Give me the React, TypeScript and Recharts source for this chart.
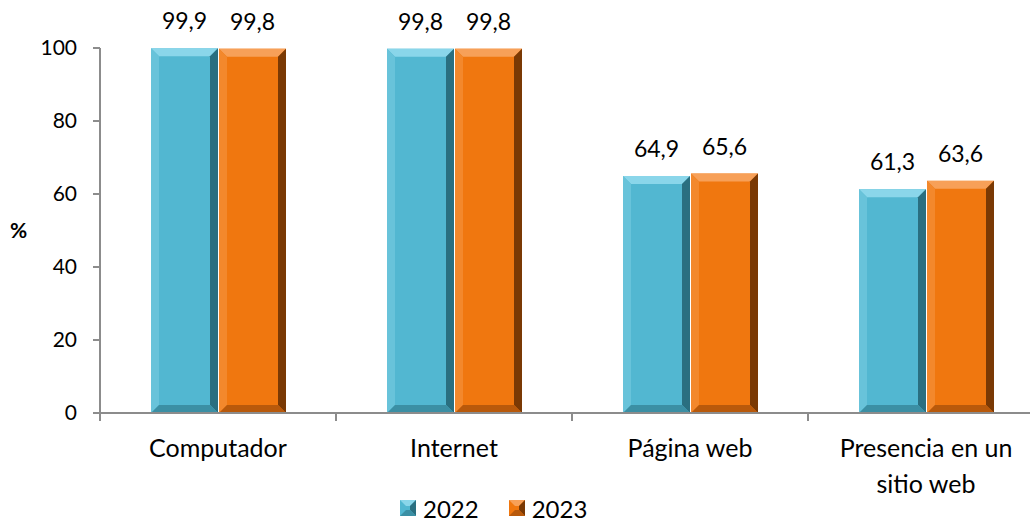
import React from "react";
import { BarChart, Bar, XAxis, YAxis, LabelList, Legend } from "recharts";

const categories = ["Computador", "Internet", "Página web", "Presencia en un sitio web"];
const values2022 = [99.9, 99.8, 64.9, 61.3];
const values2023 = [99.8, 99.8, 65.6, 63.6];
const yTicks = [0, 20, 40, 60, 80, 100];

const data = categories.map((name, i) => ({
  name,
  y2022: values2022[i],
  y2023: values2023[i],
}));

const FONT = "Lato, 'Open Sans', sans-serif";

const palettes: Record<string, { main: string; top: string; left: string; right: string; bottom: string }> = {
  blue: { main: "#52B7D1", top: "#8AD6EA", left: "#68C3DA", right: "#2A6F80", bottom: "#3B8FA4" },
  orange: { main: "#F0770F", top: "#F7A058", left: "#F3882C", right: "#7A3904", bottom: "#B8590B" },
};

function BevelBar(props: any) {
  const { x, y, width: w, height: h, tone } = props;
  if (!w || !h || h <= 0) return null;
  const c = palettes[tone];
  const b = Math.min(8, w / 4, h / 4);
  return (
    <g>
      <rect x={x} y={y} width={w} height={h} fill={c.main} />
      <polygon points={`${x},${y} ${x + w},${y} ${x + w - b},${y + b} ${x + b},${y + b}`} fill={c.top} />
      <polygon points={`${x},${y} ${x + b},${y + b} ${x + b},${y + h - b} ${x},${y + h}`} fill={c.left} />
      <polygon points={`${x + w},${y} ${x + w},${y + h} ${x + w - b},${y + h - b} ${x + w - b},${y + b}`} fill={c.right} />
      <polygon points={`${x},${y + h} ${x + w},${y + h} ${x + w - b},${y + h - b} ${x + b},${y + h - b}`} fill={c.bottom} />
    </g>
  );
}

function splitLabel(s: string): string[] {
  const words = s.split(" ");
  const out: string[] = [];
  let cur = "";
  for (const w of words) {
    const next = cur ? cur + " " + w : w;
    if (next.length > 16 && cur) {
      out.push(cur);
      cur = w;
    } else cur = next;
  }
  if (cur) out.push(cur);
  return out;
}

function CategoryTick(props: any) {
  const { x, y, payload } = props;
  const half = payload.offset || 118;
  const lines = splitLabel(String(payload.value));
  return (
    <g>
      <line x1={x - half} y1={y - 8} x2={x - half} y2={y} stroke="#8C8C8C" strokeWidth={2} />
      <text x={x} y={y + 36} textAnchor="middle" fontFamily={FONT} fontSize={25} fill="#000">
        {lines.map((ln: string, i: number) => (
          <tspan key={i} x={x} dy={i === 0 ? 0 : 36}>
            {ln}
          </tspan>
        ))}
      </text>
    </g>
  );
}

function LegendSwatch({ tone }: { tone: string }) {
  const c = palettes[tone];
  const s = 16;
  const b = 6;
  return (
    <svg width={s} height={s} style={{ marginRight: 7 }}>
      <rect x={0} y={0} width={s} height={s} fill={c.main} />
      <polygon points={`0,0 ${s},0 ${s - b},${b} ${b},${b}`} fill={c.top} />
      <polygon points={`${s},0 ${s},${s} ${s - b},${s - b} ${s - b},${b}`} fill={c.right} />
      <polygon points={`0,${s} ${s},${s} ${s - b},${s - b} ${b},${s - b}`} fill={c.bottom} />
    </svg>
  );
}

function LegendContent() {
  return (
    <div style={{ display: "flex", alignItems: "center", height: 30, fontFamily: FONT, fontSize: 24, color: "#000" }}>
      <span style={{ display: "flex", alignItems: "center", marginRight: 30 }}>
        <LegendSwatch tone="blue" />
        2022
      </span>
      <span style={{ display: "flex", alignItems: "center" }}>
        <LegendSwatch tone="orange" />
        2023
      </span>
    </div>
  );
}

const fmt = (v: any) => String(v).replace(".", ",");

export default function App() {
  return (
    <div style={{ position: "absolute", left: 0, top: 0, width: 1030, height: 523, overflow: "hidden", background: "#fff" }}>
      <BarChart
        width={1044}
        height={523}
        data={data}
        margin={{ top: 48, right: 0, bottom: 0, left: 0 }}
        barCategoryGap={51}
        barGap={1}
      >
        <YAxis
          width={100}
          domain={[0, 100]}
          ticks={yTicks}
          interval={0}
          tickSize={7}
          tickMargin={16}
          axisLine={{ stroke: "#8C8C8C", strokeWidth: 2 }}
          tickLine={{ stroke: "#8C8C8C", strokeWidth: 2 }}
          tick={{ fill: "#000", fontFamily: FONT, fontSize: 21 }}
          label={{ value: "%", position: "insideLeft", offset: 10, fill: "#000", fontFamily: FONT, fontSize: 21, fontWeight: "bold" }}
        />
        <XAxis
          dataKey="name"
          height={80}
          interval={0}
          tickLine={false}
          axisLine={{ stroke: "#8C8C8C", strokeWidth: 2 }}
          tick={<CategoryTick />}
        />
        <Legend
          verticalAlign="bottom"
          height={30}
          content={<LegendContent />}
          wrapperStyle={{ left: 400, width: 260 }}
        />
        <Bar dataKey="y2022" isAnimationActive={false} shape={(p: any) => <BevelBar {...p} tone="blue" />}>
          <LabelList
            dataKey="y2022"
            position="top"
            offset={19}
            formatter={fmt}
            style={{ fill: "#000", fontFamily: FONT, fontSize: 23 }}
          />
        </Bar>
        <Bar dataKey="y2023" isAnimationActive={false} shape={(p: any) => <BevelBar {...p} tone="orange" />}>
          <LabelList
            dataKey="y2023"
            position="top"
            offset={19}
            formatter={fmt}
            style={{ fill: "#000", fontFamily: FONT, fontSize: 23 }}
          />
        </Bar>
      </BarChart>
    </div>
  );
}
